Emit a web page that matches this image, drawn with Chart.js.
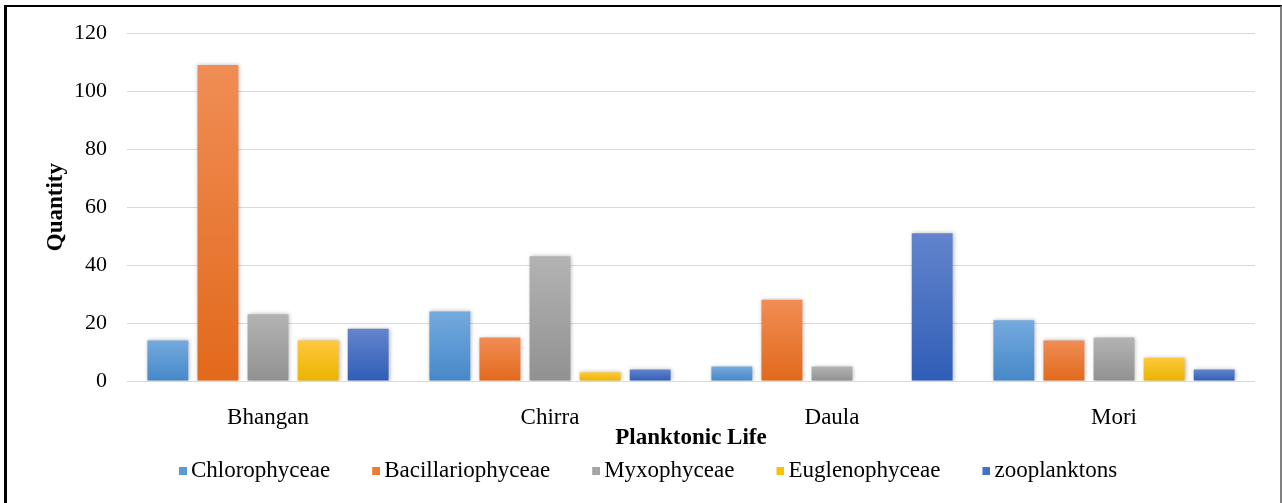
<!DOCTYPE html>
<html><head><meta charset="utf-8">
<script src="https://cdn.jsdelivr.net/npm/chart.js@4"></script>
<style>
html,body{margin:0;padding:0;background:#fff;}
#wrap{position:relative;width:1282px;height:503px;overflow:hidden;}
#frame{position:absolute;left:4px;top:5px;width:1278px;height:498px;box-sizing:border-box;border-left:3px solid #000;border-top:2px solid #000;border-right:2px solid #808080;pointer-events:none;}
canvas{display:block;}
</style>
</head><body>
<div id="wrap"><canvas id="c" width="1282" height="503"></canvas><div id="frame"></div></div>
<script>
const categories = ['Bhangan', 'Chirra', 'Daula', 'Mori'];
const seriesNames = ['Chlorophyceae', 'Bacillariophyceae', 'Myxophyceae', 'Euglenophyceae', 'zooplanktons'];
const chlorophyceae = [14, 24, 5, 21];
const bacillariophyceae = [109, 15, 28, 14];
const myxophyceae = [23, 43, 5, 15];
const euglenophyceae = [14, 3, 0, 8];
const zooplanktons = [18, 4, 51, 4];
const yTicks = [0, 20, 40, 60, 80, 100, 120];

const baseColors = ['#5B9BD5', '#ED7D31', '#A5A5A5', '#FFC000', '#4472C4'];
const topColors = ['#74aade', '#f08d55', '#b3b3b3', '#ffc93d', '#6384cc'];
const bottomColors = ['#4688c8', '#e2691b', '#919191', '#eab300', '#2f5eb7'];
const FONT = "'Liberation Serif', 'Times New Roman', serif";

function gradFor(i) {
  return (ctx) => {
    const chart = ctx.chart;
    if (!chart.chartArea || ctx.type !== 'data' || !chart.scales.y) return baseColors[i];
    const y = chart.scales.y;
    const yTop = y.getPixelForValue(ctx.raw);
    const yBase = y.getPixelForValue(0);
    if (!(yBase > yTop)) return baseColors[i];
    const g = chart.ctx.createLinearGradient(0, yTop, 0, yBase);
    g.addColorStop(0, topColors[i]);
    g.addColorStop(1, bottomColors[i]);
    return g;
  };
}

// small square legend markers drawn so that the square sits just before the text
function legendSquare(color) {
  const cv = document.createElement('canvas');
  cv.width = 16; cv.height = 8;
  const c = cv.getContext('2d');
  c.fillStyle = color;
  c.fillRect(8, 0, 8, 8);
  return cv;
}

const allData = [chlorophyceae, bacillariophyceae, myxophyceae, euglenophyceae, zooplanktons];
const datasets = seriesNames.map((n, i) => ({
  label: n,
  data: allData[i],
  backgroundColor: gradFor(i),
  borderWidth: 0,
  categoryPercentage: 0.888,
  barPercentage: 0.816
}));

const shadowPlugin = {
  id: 'shadow',
  beforeDatasetsDraw(chart) {
    const c = chart.ctx; c.save();
    c.shadowColor = 'rgba(0,0,0,0.28)'; c.shadowBlur = 4; c.shadowOffsetX = 1; c.shadowOffsetY = 0;
  },
  afterDatasetsDraw(chart) { chart.ctx.restore(); }
};

new Chart(document.getElementById('c'), {
  type: 'bar',
  data: { labels: categories, datasets },
  plugins: [shadowPlugin],
  options: {
    responsive: false,
    animation: false,
    events: [],
    layout: { padding: { left: 52, right: 27, top: 31, bottom: 10.5 } },
    plugins: {
      tooltip: { enabled: false },
      legend: {
        position: 'bottom',
        labels: {
          font: { family: FONT, size: 23 },
          color: '#000',
          usePointStyle: true,
          boxWidth: 1,
          boxHeight: 8,
          padding: 7,
          generateLabels(chart) {
            const items = Chart.defaults.plugins.legend.labels.generateLabels(chart);
            items.forEach((it, i) => {
              it.fillStyle = baseColors[i];
              it.strokeStyle = baseColors[i];
              it.lineWidth = 0;
              it.pointStyle = legendSquare(baseColors[i]);
              it.text = it.text + (i < items.length - 1 ? '      ' : '  ');
            });
            return items;
          }
        }
      }
    },
    scales: {
      x: {
        grid: { display: false },
        border: { display: false },
        ticks: { font: { family: FONT, size: 23, lineHeight: 1.2 }, color: '#000', padding: 15 },
        title: { display: true, text: 'Planktonic Life', color: '#000',
                 font: { family: FONT, size: 23, weight: 'bold', lineHeight: 1.2 }, padding: { top: 0, bottom: 0.7 } },
        afterFit(s) { s.height = 71.5; }
      },
      y: {
        min: 0, max: 120,
        afterBuildTicks(s) { s.ticks = yTicks.map(v => ({ value: v })); },
        grid: { color: '#d9d9d9', lineWidth: 1, drawTicks: false },
        border: { display: false },
        ticks: { font: { family: FONT, size: 22 }, color: '#000', padding: 20 },
        title: { display: true, text: 'Quantity', color: '#000',
                 font: { family: FONT, size: 23, weight: 'bold', lineHeight: 1 }, padding: { top: -7.5, bottom: 0 } },
        afterFit(s) { s.width = 75; }
      }
    }
  }
});
</script>
</body></html>
